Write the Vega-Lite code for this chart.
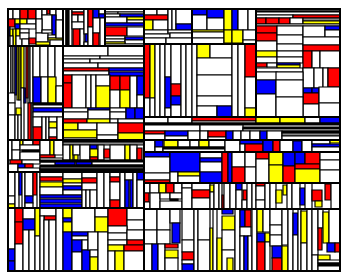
{
"$schema":"https://vega.github.io/schema/vega-lite/v6.json",
"width":332,"height":262,
"autosize":{"type":"none"},
"padding":{"left":8,"top":9,"right":10,"bottom":9},
"config":{"view":{"stroke":null}},
"datasets":{
"cells":[
{"x":8,"x2":340,"y":9,"y2":271,"c":"w"},
{"x":8,"x2":63,"y":9,"y2":46,"c":"w"},
{"x":8,"x2":13,"y":9,"y2":19,"c":"w"},{"x":13,"x2":20,"y":9,"y2":19,"c":"w"},{"x":20,"x2":28,"y":9,"y2":19,"c":"r"},{"x":28,"x2":36,"y":9,"y2":19,"c":"r"},{"x":36,"x2":42,"y":9,"y2":19,"c":"w"},{"x":42,"x2":47,"y":9,"y2":15,"c":"w"},{"x":47,"x2":50,"y":9,"y2":14,"c":"r"},{"x":50,"x2":56,"y":9,"y2":15,"c":"w"},{"x":56,"x2":63,"y":9,"y2":20,"c":"w"},{"x":42,"x2":52,"y":15,"y2":30,"c":"w"},{"x":52,"x2":56,"y":15,"y2":35,"c":"b"},
{"x":8,"x2":15,"y":19,"y2":27,"c":"r"},{"x":15,"x2":20,"y":19,"y2":24,"c":"y"},{"x":20,"x2":27,"y":19,"y2":24,"c":"y"},{"x":27,"x2":36,"y":19,"y2":24,"c":"w"},{"x":15,"x2":20,"y":24,"y2":29,"c":"b"},{"x":20,"x2":36,"y":24,"y2":29,"c":"w"},{"x":36,"x2":42,"y":19,"y2":33,"c":"w"},
{"x":8,"x2":10,"y":27,"y2":36,"c":"b"},{"x":10,"x2":13,"y":29,"y2":36,"c":"y"},{"x":13,"x2":16,"y":29,"y2":46,"c":"y"},{"x":16,"x2":20,"y":29,"y2":36,"c":"y"},{"x":8,"x2":10,"y":36,"y2":46,"c":"w"},{"x":10,"x2":13,"y":36,"y2":46,"c":"w"},{"x":16,"x2":22,"y":36,"y2":46,"c":"w"},{"x":20,"x2":29,"y":29,"y2":33,"c":"w"},{"x":20,"x2":29,"y":33,"y2":39,"c":"w"},{"x":22,"x2":29,"y":39,"y2":46,"c":"w"},{"x":29,"x2":36,"y":38,"y2":44,"c":"r"},{"x":36,"x2":48,"y":33,"y2":42,"c":"w"},{"x":36,"x2":50,"y":42,"y2":45,"c":"y"},{"x":48,"x2":56,"y":35,"y2":38,"c":"w"},{"x":48,"x2":63,"y":38,"y2":40,"c":"y"},{"x":56,"x2":63,"y":20,"y2":38,"c":"w"},{"x":50,"x2":63,"y":40,"y2":46,"c":"w"},{"x":42,"x2":52,"y":30,"y2":33,"c":"w"},
{"x":63,"x2":66,"y":9,"y2":46,"c":"w"},{"x":66,"x2":69,"y":9,"y2":46,"c":"k"},{"x":69,"x2":72,"y":9,"y2":46,"c":"w"},{"x":72,"x2":84,"y":9,"y2":12,"c":"w"},{"x":72,"x2":84,"y":12,"y2":15,"c":"r"},{"x":72,"x2":78,"y":15,"y2":22,"c":"w"},{"x":78,"x2":84,"y":15,"y2":22,"c":"w"},{"x":72,"x2":84,"y":22,"y2":29,"c":"w"},{"x":73,"x2":80,"y":29,"y2":46,"c":"r"},{"x":80,"x2":84,"y":29,"y2":46,"c":"w"},{"x":84,"x2":88,"y":9,"y2":34,"c":"w"},{"x":85,"x2":88,"y":34,"y2":42,"c":"b"},{"x":84,"x2":88,"y":42,"y2":46,"c":"w"},{"x":88,"x2":93,"y":9,"y2":27,"c":"r"},{"x":88,"x2":93,"y":27,"y2":46,"c":"w"},{"x":93,"x2":99,"y":9,"y2":18,"c":"b"},{"x":99,"x2":105,"y":9,"y2":14,"c":"w"},{"x":99,"x2":105,"y":14,"y2":18,"c":"b"},{"x":93,"x2":100,"y":18,"y2":33,"c":"w"},{"x":100,"x2":105,"y":18,"y2":46,"c":"w"},{"x":93,"x2":99,"y":33,"y2":46,"c":"r"},
{"x":105,"x2":144,"y":9,"y2":12,"c":"w"},{"x":105,"x2":118,"y":12,"y2":14,"c":"w"},{"x":118,"x2":144,"y":12,"y2":14,"c":"w"},{"x":105,"x2":120,"y":14,"y2":17,"c":"w"},{"x":120,"x2":144,"y":14,"y2":17,"c":"b"},{"x":105,"x2":127,"y":17,"y2":23,"c":"w"},{"x":127,"x2":144,"y":17,"y2":20,"c":"y"},{"x":127,"x2":144,"y":20,"y2":23,"c":"w"},{"x":105,"x2":144,"y":23,"y2":26,"c":"b"},{"x":105,"x2":127,"y":27,"y2":36,"c":"r"},{"x":127,"x2":144,"y":27,"y2":36,"c":"w"},{"x":105,"x2":125,"y":36,"y2":39,"c":"w"},{"x":125,"x2":144,"y":37,"y2":40,"c":"b"},{"x":105,"x2":125,"y":39,"y2":42,"c":"w"},{"x":125,"x2":144,"y":40,"y2":44,"c":"w"},{"x":105,"x2":125,"y":42,"y2":44,"c":"y"},{"x":105,"x2":144,"y":44,"y2":46,"c":"w"},
{"x":144,"x2":157,"y":9,"y2":15,"c":"w"},{"x":157,"x2":168,"y":9,"y2":15,"c":"w"},{"x":144,"x2":168,"y":15,"y2":20,"c":"r"},{"x":144,"x2":153,"y":20,"y2":30,"c":"y"},{"x":153,"x2":168,"y":20,"y2":30,"c":"w"},{"x":168,"x2":172,"y":9,"y2":30,"c":"w"},{"x":172,"x2":176,"y":9,"y2":30,"c":"w"},{"x":176,"x2":192,"y":9,"y2":24,"c":"w"},{"x":176,"x2":192,"y":24,"y2":30,"c":"b"},{"x":144,"x2":168,"y":30,"y2":34,"c":"w"},{"x":168,"x2":192,"y":30,"y2":33,"c":"w"},{"x":144,"x2":170,"y":34,"y2":38,"c":"w"},{"x":170,"x2":192,"y":33,"y2":38,"c":"w"},{"x":144,"x2":166,"y":38,"y2":44,"c":"w"},{"x":166,"x2":192,"y":38,"y2":44,"c":"w"},
{"x":192,"x2":207,"y":9,"y2":15,"c":"b"},{"x":192,"x2":207,"y":15,"y2":30,"c":"w"},{"x":207,"x2":224,"y":9,"y2":18,"c":"b"},{"x":207,"x2":224,"y":18,"y2":30,"c":"w"},{"x":224,"x2":232,"y":9,"y2":30,"c":"y"},{"x":232,"x2":238,"y":9,"y2":30,"c":"b"},{"x":238,"x2":248,"y":9,"y2":30,"c":"w"},{"x":248,"x2":256,"y":9,"y2":30,"c":"w"},{"x":192,"x2":224,"y":30,"y2":32,"c":"y"},{"x":192,"x2":224,"y":32,"y2":38,"c":"w"},{"x":192,"x2":224,"y":38,"y2":44,"c":"w"},{"x":224,"x2":232,"y":30,"y2":43,"c":"y"},{"x":232,"x2":243,"y":30,"y2":43,"c":"y"},{"x":243,"x2":256,"y":30,"y2":40,"c":"w"},{"x":243,"x2":256,"y":40,"y2":44,"c":"w"},
{"x":256,"x2":340,"y":9,"y2":11,"c":"w"},{"x":256,"x2":340,"y":11,"y2":12,"c":"k"},{"x":256,"x2":340,"y":12,"y2":15,"c":"w"},{"x":256,"x2":293,"y":15,"y2":18,"c":"w"},{"x":293,"x2":340,"y":15,"y2":18,"c":"r"},{"x":256,"x2":266,"y":18,"y2":24,"c":"r"},{"x":266,"x2":279,"y":18,"y2":24,"c":"r"},{"x":279,"x2":290,"y":18,"y2":24,"c":"r"},{"x":290,"x2":303,"y":18,"y2":24,"c":"w"},{"x":303,"x2":340,"y":18,"y2":21,"c":"g"},{"x":303,"x2":340,"y":21,"y2":24,"c":"y"},{"x":256,"x2":340,"y":24,"y2":26,"c":"w"},{"x":256,"x2":277,"y":26,"y2":33,"c":"r"},{"x":256,"x2":277,"y":33,"y2":41,"c":"r"},{"x":256,"x2":277,"y":41,"y2":51,"c":"w"},{"x":277,"x2":303,"y":26,"y2":35,"c":"w"},{"x":277,"x2":303,"y":35,"y2":44,"c":"w"},{"x":277,"x2":303,"y":44,"y2":51,"c":"w"},{"x":303,"x2":325,"y":26,"y2":37,"c":"w"},{"x":325,"x2":340,"y":26,"y2":30,"c":"b"},{"x":325,"x2":340,"y":30,"y2":37,"c":"w"},{"x":303,"x2":340,"y":37,"y2":45,"c":"w"},{"x":303,"x2":340,"y":45,"y2":51,"c":"r"},
{"x":256,"x2":277,"y":51,"y2":57,"c":"y"},{"x":277,"x2":303,"y":51,"y2":57,"c":"w"},{"x":256,"x2":277,"y":57,"y2":63,"c":"w"},{"x":277,"x2":303,"y":57,"y2":63,"c":"w"},{"x":256,"x2":267,"y":63,"y2":67,"c":"r"},{"x":267,"x2":277,"y":63,"y2":67,"c":"w"},{"x":277,"x2":300,"y":63,"y2":65,"c":"b"},{"x":277,"x2":300,"y":65,"y2":68,"c":"y"},{"x":256,"x2":303,"y":68,"y2":72,"c":"w"},{"x":303,"x2":312,"y":51,"y2":68,"c":"r"},{"x":312,"x2":320,"y":51,"y2":68,"c":"w"},{"x":320,"x2":340,"y":51,"y2":68,"c":"w"},{"x":303,"x2":314,"y":68,"y2":88,"c":"w"},{"x":314,"x2":323,"y":68,"y2":88,"c":"w"},{"x":323,"x2":328,"y":68,"y2":88,"c":"w"},{"x":328,"x2":340,"y":68,"y2":87,"c":"r"},{"x":303,"x2":312,"y":88,"y2":93,"c":"b"},{"x":312,"x2":319,"y":88,"y2":93,"c":"b"},{"x":303,"x2":319,"y":93,"y2":104,"c":"r"},{"x":303,"x2":319,"y":104,"y2":117,"c":"w"},{"x":319,"x2":340,"y":87,"y2":103,"c":"w"},{"x":319,"x2":340,"y":103,"y2":117,"c":"w"},{"x":256,"x2":277,"y":72,"y2":80,"c":"w"},{"x":256,"x2":276,"y":80,"y2":94,"c":"b"},{"x":256,"x2":276,"y":94,"y2":117,"c":"w"},{"x":276,"x2":303,"y":72,"y2":80,"c":"w"},{"x":276,"x2":303,"y":80,"y2":97,"c":"w"},{"x":276,"x2":303,"y":97,"y2":117,"c":"w"},
{"x":144,"x2":150,"y":44,"y2":98,"c":"r"},{"x":144,"x2":150,"y":98,"y2":117,"c":"w"},{"x":150,"x2":155,"y":44,"y2":98,"c":"y"},{"x":150,"x2":155,"y":98,"y2":117,"c":"w"},{"x":155,"x2":160,"y":44,"y2":117,"c":"w"},{"x":160,"x2":165,"y":44,"y2":117,"c":"w"},{"x":165,"x2":171,"y":44,"y2":77,"c":"w"},{"x":165,"x2":171,"y":77,"y2":108,"c":"b"},{"x":165,"x2":171,"y":108,"y2":117,"c":"w"},{"x":171,"x2":181,"y":44,"y2":84,"c":"w"},{"x":171,"x2":181,"y":84,"y2":96,"c":"r"},{"x":171,"x2":181,"y":96,"y2":105,"c":"b"},{"x":171,"x2":181,"y":105,"y2":117,"c":"w"},{"x":181,"x2":186,"y":44,"y2":117,"c":"w"},{"x":186,"x2":192,"y":44,"y2":117,"c":"w"},{"x":192,"x2":197,"y":44,"y2":117,"c":"w"},{"x":197,"x2":210,"y":44,"y2":58,"c":"y"},{"x":210,"x2":232,"y":44,"y2":58,"c":"w"},{"x":197,"x2":232,"y":58,"y2":75,"c":"w"},{"x":197,"x2":232,"y":75,"y2":96,"c":"w"},{"x":197,"x2":232,"y":96,"y2":106,"c":"w"},{"x":197,"x2":217,"y":106,"y2":117,"c":"w"},{"x":217,"x2":232,"y":106,"y2":117,"c":"b"},{"x":232,"x2":238,"y":44,"y2":117,"c":"w"},{"x":238,"x2":245,"y":44,"y2":117,"c":"w"},{"x":245,"x2":256,"y":44,"y2":77,"c":"r"},{"x":245,"x2":256,"y":77,"y2":108,"c":"w"},{"x":245,"x2":256,"y":108,"y2":117,"c":"y"},
{"x":144,"x2":168,"y":117,"y2":123,"c":"w"},{"x":168,"x2":192,"y":117,"y2":123,"c":"w"},{"x":192,"x2":256,"y":117,"y2":121,"c":"r"},{"x":192,"x2":256,"y":121,"y2":123,"c":"w"},{"x":256,"x2":280,"y":117,"y2":123,"c":"y"},{"x":280,"x2":305,"y":117,"y2":123,"c":"y"},{"x":305,"x2":320,"y":117,"y2":123,"c":"w"},{"x":320,"x2":340,"y":117,"y2":123,"c":"b"},{"x":144,"x2":340,"y":123,"y2":125,"c":"k"},{"x":144,"x2":200,"y":125,"y2":131,"c":"w"},{"x":200,"x2":243,"y":125,"y2":131,"c":"w"},{"x":243,"x2":340,"y":127,"y2":129,"c":"k"},{"x":243,"x2":340,"y":129,"y2":131,"c":"w"},{"x":144,"x2":165,"y":131,"y2":134,"c":"r"},{"x":144,"x2":165,"y":134,"y2":140,"c":"w"},{"x":165,"x2":188,"y":131,"y2":136,"c":"b"},{"x":165,"x2":188,"y":136,"y2":140,"c":"w"},{"x":188,"x2":200,"y":131,"y2":140,"c":"w"},{"x":200,"x2":208,"y":131,"y2":140,"c":"w"},{"x":208,"x2":226,"y":131,"y2":137,"c":"r"},{"x":208,"x2":226,"y":137,"y2":140,"c":"w"},{"x":226,"x2":233,"y":131,"y2":140,"c":"b"},{"x":233,"x2":241,"y":131,"y2":140,"c":"w"},{"x":241,"x2":250,"y":131,"y2":140,"c":"w"},{"x":250,"x2":260,"y":131,"y2":140,"c":"w"},{"x":260,"x2":267,"y":131,"y2":140,"c":"b"},{"x":267,"x2":282,"y":131,"y2":140,"c":"w"},{"x":282,"x2":340,"y":131,"y2":133,"c":"k"},{"x":282,"x2":340,"y":133,"y2":136,"c":"g"},{"x":282,"x2":340,"y":136,"y2":140,"c":"w"},
{"x":144,"x2":155,"y":140,"y2":152,"c":"w"},{"x":155,"x2":163,"y":140,"y2":147,"c":"b"},{"x":155,"x2":163,"y":147,"y2":152,"c":"w"},{"x":164,"x2":178,"y":140,"y2":147,"c":"y"},{"x":178,"x2":190,"y":140,"y2":147,"c":"w"},{"x":190,"x2":199,"y":140,"y2":147,"c":"w"},{"x":199,"x2":209,"y":140,"y2":147,"c":"y"},{"x":209,"x2":225,"y":140,"y2":147,"c":"w"},{"x":163,"x2":225,"y":147,"y2":149,"c":"k"},{"x":163,"x2":225,"y":149,"y2":152,"c":"w"},{"x":225,"x2":240,"y":140,"y2":152,"c":"w"},{"x":240,"x2":263,"y":140,"y2":144,"c":"b"},{"x":240,"x2":245,"y":144,"y2":152,"c":"w"},{"x":245,"x2":263,"y":144,"y2":152,"c":"r"},{"x":263,"x2":273,"y":140,"y2":152,"c":"b"},{"x":273,"x2":280,"y":140,"y2":152,"c":"r"},{"x":280,"x2":293,"y":140,"y2":152,"c":"w"},{"x":293,"x2":302,"y":141,"y2":152,"c":"b"},{"x":302,"x2":312,"y":140,"y2":152,"c":"w"},{"x":312,"x2":330,"y":140,"y2":144,"c":"w"},{"x":330,"x2":340,"y":140,"y2":143,"c":"y"},{"x":312,"x2":340,"y":144,"y2":147,"c":"b"},{"x":312,"x2":340,"y":147,"y2":152,"c":"w"},
{"x":144,"x2":170,"y":152,"y2":157,"c":"b"},{"x":144,"x2":170,"y":157,"y2":173,"c":"w"},{"x":144,"x2":170,"y":173,"y2":180,"c":"w"},{"x":144,"x2":170,"y":180,"y2":183,"c":"r"},{"x":170,"x2":200,"y":152,"y2":172,"c":"b"},{"x":170,"x2":178,"y":172,"y2":183,"c":"w"},{"x":178,"x2":200,"y":172,"y2":176,"c":"y"},{"x":178,"x2":200,"y":176,"y2":183,"c":"w"},{"x":200,"x2":222,"y":152,"y2":158,"c":"w"},{"x":200,"x2":222,"y":158,"y2":162,"c":"b"},{"x":200,"x2":222,"y":162,"y2":172,"c":"w"},{"x":200,"x2":222,"y":172,"y2":183,"c":"b"},{"x":222,"x2":228,"y":152,"y2":183,"c":"r"},{"x":228,"x2":232,"y":152,"y2":183,"c":"b"},{"x":232,"x2":245,"y":152,"y2":167,"c":"w"},{"x":232,"x2":245,"y":167,"y2":183,"c":"r"},{"x":245,"x2":256,"y":152,"y2":167,"c":"w"},{"x":245,"x2":256,"y":167,"y2":183,"c":"w"},{"x":256,"x2":269,"y":152,"y2":159,"c":"r"},{"x":256,"x2":269,"y":159,"y2":183,"c":"w"},{"x":269,"x2":283,"y":152,"y2":165,"c":"y"},{"x":269,"x2":283,"y":165,"y2":183,"c":"y"},{"x":283,"x2":295,"y":152,"y2":166,"c":"b"},{"x":283,"x2":295,"y":166,"y2":183,"c":"r"},{"x":295,"x2":305,"y":152,"y2":164,"c":"b"},{"x":305,"x2":320,"y":152,"y2":164,"c":"r"},{"x":295,"x2":320,"y":164,"y2":169,"c":"r"},{"x":295,"x2":320,"y":169,"y2":183,"c":"y"},{"x":320,"x2":340,"y":152,"y2":160,"c":"w"},{"x":320,"x2":340,"y":160,"y2":170,"c":"w"},{"x":320,"x2":340,"y":170,"y2":183,"c":"w"},
{"x":144,"x2":150,"y":183,"y2":193,"c":"w"},{"x":144,"x2":149,"y":193,"y2":202,"c":"r"},{"x":144,"x2":150,"y":202,"y2":209,"c":"w"},{"x":150,"x2":159,"y":183,"y2":193,"c":"w"},{"x":159,"x2":166,"y":183,"y2":193,"c":"y"},{"x":166,"x2":174,"y":183,"y2":193,"c":"r"},{"x":174,"x2":182,"y":183,"y2":193,"c":"w"},{"x":150,"x2":160,"y":193,"y2":209,"c":"w"},{"x":160,"x2":170,"y":193,"y2":199,"c":"w"},{"x":170,"x2":182,"y":193,"y2":199,"c":"w"},{"x":170,"x2":178,"y":199,"y2":201,"c":"k"},{"x":160,"x2":182,"y":201,"y2":209,"c":"w"},{"x":182,"x2":192,"y":183,"y2":188,"c":"w"},{"x":182,"x2":192,"y":188,"y2":209,"c":"w"},{"x":192,"x2":210,"y":183,"y2":190,"c":"w"},{"x":192,"x2":210,"y":190,"y2":198,"c":"r"},{"x":192,"x2":210,"y":198,"y2":209,"c":"w"},{"x":210,"x2":214,"y":185,"y2":192,"c":"y"},{"x":210,"x2":214,"y":192,"y2":209,"c":"w"},{"x":214,"x2":219,"y":183,"y2":209,"c":"w"},{"x":219,"x2":222,"y":183,"y2":209,"c":"w"},{"x":222,"x2":224,"y":195,"y2":209,"c":"r"},{"x":224,"x2":230,"y":183,"y2":209,"c":"w"},{"x":230,"x2":236,"y":183,"y2":209,"c":"w"},{"x":236,"x2":242,"y":183,"y2":190,"c":"b"},{"x":236,"x2":242,"y":190,"y2":209,"c":"w"},{"x":243,"x2":247,"y":190,"y2":200,"c":"r"},{"x":242,"x2":247,"y":200,"y2":209,"c":"w"},{"x":247,"x2":252,"y":183,"y2":209,"c":"w"},{"x":252,"x2":256,"y":183,"y2":209,"c":"w"},{"x":256,"x2":265,"y":183,"y2":186,"c":"r"},{"x":256,"x2":265,"y":186,"y2":200,"c":"w"},{"x":256,"x2":265,"y":200,"y2":209,"c":"w"},{"x":265,"x2":270,"y":183,"y2":209,"c":"w"},{"x":270,"x2":276,"y":183,"y2":209,"c":"w"},{"x":276,"x2":282,"y":190,"y2":203,"c":"y"},{"x":283,"x2":287,"y":185,"y2":195,"c":"y"},{"x":287,"x2":292,"y":183,"y2":209,"c":"w"},{"x":292,"x2":300,"y":183,"y2":209,"c":"w"},{"x":300,"x2":305,"y":188,"y2":205,"c":"b"},{"x":305,"x2":312,"y":183,"y2":209,"c":"w"},{"x":312,"x2":322,"y":190,"y2":201,"c":"r"},{"x":315,"x2":322,"y":201,"y2":207,"c":"y"},{"x":325,"x2":331,"y":184,"y2":200,"c":"r"},{"x":331,"x2":340,"y":183,"y2":209,"c":"w"},
{"x":144,"x2":157,"y":209,"y2":230,"c":"w"},{"x":157,"x2":170,"y":209,"y2":230,"c":"w"},{"x":144,"x2":157,"y":230,"y2":244,"c":"w"},{"x":157,"x2":170,"y":230,"y2":244,"c":"w"},{"x":144,"x2":152,"y":244,"y2":271,"c":"w"},{"x":152,"x2":158,"y":244,"y2":271,"c":"b"},{"x":158,"x2":165,"y":244,"y2":271,"c":"w"},{"x":165,"x2":178,"y":244,"y2":248,"c":"r"},{"x":165,"x2":178,"y":250,"y2":258,"c":"y"},{"x":165,"x2":178,"y":258,"y2":271,"c":"w"},{"x":170,"x2":180,"y":209,"y2":223,"c":"w"},{"x":172,"x2":180,"y":223,"y2":243,"c":"b"},{"x":182,"x2":194,"y":209,"y2":240,"c":"w"},{"x":182,"x2":194,"y":240,"y2":252,"c":"w"},{"x":182,"x2":194,"y":252,"y2":260,"c":"r"},{"x":182,"x2":194,"y":260,"y2":264,"c":"w"},{"x":182,"x2":194,"y":264,"y2":271,"c":"b"},{"x":194,"x2":198,"y":209,"y2":271,"c":"w"},{"x":198,"x2":210,"y":209,"y2":240,"c":"w"},{"x":198,"x2":210,"y":240,"y2":271,"c":"w"},{"x":210,"x2":213,"y":228,"y2":271,"c":"y"},{"x":213,"x2":217,"y":209,"y2":271,"c":"w"},{"x":217,"x2":222,"y":238,"y2":271,"c":"y"},{"x":222,"x2":233,"y":209,"y2":214,"c":"b"},{"x":222,"x2":235,"y":216,"y2":230,"c":"y"},{"x":222,"x2":235,"y":230,"y2":250,"c":"w"},{"x":222,"x2":235,"y":250,"y2":271,"c":"w"},{"x":227,"x2":233,"y":258,"y2":271,"c":"y"},{"x":235,"x2":240,"y":209,"y2":271,"c":"w"},{"x":240,"x2":245,"y":210,"y2":227,"c":"b"},{"x":245,"x2":251,"y":210,"y2":227,"c":"r"},{"x":240,"x2":251,"y":227,"y2":236,"c":"w"},{"x":240,"x2":244,"y":236,"y2":271,"c":"w"},{"x":244,"x2":248,"y":236,"y2":271,"c":"b"},{"x":248,"x2":252,"y":236,"y2":271,"c":"w"},{"x":252,"x2":257,"y":209,"y2":271,"c":"w"},{"x":257,"x2":263,"y":209,"y2":232,"c":"y"},{"x":263,"x2":270,"y":209,"y2":232,"c":"w"},{"x":257,"x2":265,"y":233,"y2":242,"c":"b"},{"x":265,"x2":270,"y":233,"y2":242,"c":"y"},{"x":257,"x2":265,"y":242,"y2":271,"c":"r"},{"x":265,"x2":270,"y":242,"y2":271,"c":"w"},{"x":270,"x2":282,"y":209,"y2":225,"c":"w"},{"x":270,"x2":282,"y":225,"y2":235,"c":"w"},{"x":270,"x2":282,"y":235,"y2":246,"c":"w"},{"x":272,"x2":282,"y":246,"y2":258,"c":"b"},{"x":272,"x2":282,"y":258,"y2":271,"c":"r"},{"x":282,"x2":288,"y":209,"y2":245,"c":"w"},{"x":282,"x2":288,"y":246,"y2":271,"c":"y"},{"x":288,"x2":293,"y":209,"y2":271,"c":"w"},{"x":293,"x2":298,"y":213,"y2":235,"c":"b"},{"x":293,"x2":298,"y":235,"y2":271,"c":"w"},{"x":298,"x2":301,"y":209,"y2":271,"c":"w"},{"x":301,"x2":307,"y":211,"y2":243,"c":"y"},{"x":301,"x2":307,"y":243,"y2":271,"c":"w"},{"x":307,"x2":312,"y":209,"y2":271,"c":"w"},{"x":312,"x2":318,"y":209,"y2":255,"c":"w"},{"x":318,"x2":323,"y":209,"y2":228,"c":"w"},{"x":318,"x2":322,"y":228,"y2":250,"c":"r"},{"x":323,"x2":329,"y":212,"y2":243,"c":"y"},{"x":329,"x2":340,"y":209,"y2":243,"c":"w"},{"x":327,"x2":335,"y":243,"y2":252,"c":"b"},{"x":335,"x2":340,"y":243,"y2":252,"c":"r"},{"x":312,"x2":318,"y":255,"y2":271,"c":"w"},{"x":318,"x2":330,"y":255,"y2":260,"c":"y"},{"x":318,"x2":340,"y":260,"y2":263,"c":"w"},{"x":318,"x2":340,"y":263,"y2":266,"c":"k"},{"x":318,"x2":340,"y":266,"y2":271,"c":"w"},
{"x":8,"x2":11,"y":46,"y2":140,"c":"w"},{"x":11,"x2":13,"y":46,"y2":93,"c":"w"},{"x":13,"x2":15,"y":46,"y2":93,"c":"w"},{"x":8,"x2":15,"y":93,"y2":103,"c":"w"},{"x":8,"x2":15,"y":103,"y2":115,"c":"w"},{"x":8,"x2":15,"y":115,"y2":140,"c":"w"},{"x":15,"x2":17,"y":46,"y2":95,"c":"b"},{"x":17,"x2":19,"y":46,"y2":100,"c":"y"},{"x":19,"x2":21,"y":46,"y2":100,"c":"y"},{"x":21,"x2":24,"y":46,"y2":88,"c":"y"},{"x":21,"x2":24,"y":88,"y2":140,"c":"w"},{"x":24,"x2":26,"y":88,"y2":103,"c":"b"},{"x":28,"x2":30,"y":46,"y2":103,"c":"w"},{"x":30,"x2":33,"y":46,"y2":103,"c":"w"},{"x":26,"x2":28,"y":46,"y2":98,"c":"r"},{"x":31,"x2":33,"y":103,"y2":140,"c":"w"},{"x":28,"x2":31,"y":103,"y2":140,"c":"r"},{"x":16,"x2":21,"y":108,"y2":115,"c":"y"},{"x":15,"x2":18,"y":115,"y2":140,"c":"w"},{"x":18,"x2":21,"y":115,"y2":140,"c":"w"},
{"x":33,"x2":40,"y":46,"y2":77,"c":"w"},{"x":40,"x2":48,"y":46,"y2":77,"c":"w"},{"x":48,"x2":55,"y":46,"y2":77,"c":"w"},{"x":55,"x2":63,"y":46,"y2":86,"c":"w"},{"x":33,"x2":41,"y":77,"y2":103,"c":"b"},{"x":41,"x2":48,"y":77,"y2":103,"c":"w"},{"x":48,"x2":56,"y":77,"y2":103,"c":"y"},{"x":56,"x2":63,"y":86,"y2":103,"c":"w"},{"x":33,"x2":63,"y":103,"y2":105,"c":"k"},{"x":33,"x2":63,"y":105,"y2":108,"c":"w"},{"x":33,"x2":63,"y":108,"y2":112,"c":"b"},{"x":33,"x2":63,"y":112,"y2":117,"c":"w"},{"x":33,"x2":42,"y":117,"y2":127,"c":"w"},{"x":33,"x2":42,"y":127,"y2":140,"c":"r"},{"x":42,"x2":46,"y":117,"y2":140,"c":"w"},{"x":46,"x2":49,"y":117,"y2":140,"c":"w"},{"x":49,"x2":57,"y":117,"y2":122,"c":"w"},{"x":49,"x2":57,"y":122,"y2":128,"c":"y"},{"x":49,"x2":57,"y":128,"y2":137,"c":"w"},{"x":49,"x2":57,"y":137,"y2":140,"c":"r"},{"x":57,"x2":63,"y":117,"y2":140,"c":"w"},
{"x":63,"x2":108,"y":46,"y2":56,"c":"w"},{"x":108,"x2":144,"y":46,"y2":56,"c":"w"},{"x":63,"x2":100,"y":56,"y2":59,"c":"w"},{"x":100,"x2":144,"y":56,"y2":59,"c":"w"},{"x":63,"x2":90,"y":59,"y2":63,"c":"w"},{"x":90,"x2":144,"y":59,"y2":63,"c":"w"},{"x":63,"x2":98,"y":63,"y2":68,"c":"w"},{"x":98,"x2":144,"y":63,"y2":68,"c":"w"},{"x":63,"x2":109,"y":68,"y2":71,"c":"r"},{"x":63,"x2":109,"y":71,"y2":75,"c":"w"},{"x":109,"x2":144,"y":68,"y2":71,"c":"b"},{"x":109,"x2":144,"y":72,"y2":76,"c":"b"},
{"x":63,"x2":72,"y":75,"y2":83,"c":"r"},{"x":63,"x2":72,"y":83,"y2":108,"c":"r"},{"x":72,"x2":86,"y":75,"y2":108,"c":"w"},{"x":86,"x2":91,"y":75,"y2":108,"c":"w"},{"x":91,"x2":96,"y":75,"y2":108,"c":"w"},{"x":96,"x2":110,"y":75,"y2":86,"c":"w"},{"x":96,"x2":110,"y":86,"y2":108,"c":"y"},{"x":110,"x2":120,"y":76,"y2":90,"c":"r"},{"x":110,"x2":120,"y":90,"y2":108,"c":"w"},{"x":120,"x2":130,"y":76,"y2":90,"c":"r"},{"x":120,"x2":130,"y":90,"y2":108,"c":"y"},{"x":130,"x2":137,"y":76,"y2":108,"c":"w"},{"x":137,"x2":144,"y":76,"y2":95,"c":"b"},{"x":137,"x2":144,"y":95,"y2":108,"c":"w"},
{"x":63,"x2":88,"y":108,"y2":112,"c":"w"},{"x":63,"x2":88,"y":112,"y2":119,"c":"w"},{"x":88,"x2":110,"y":108,"y2":110,"c":"b"},{"x":88,"x2":110,"y":110,"y2":119,"c":"w"},{"x":110,"x2":126,"y":108,"y2":112,"c":"w"},{"x":110,"x2":126,"y":112,"y2":119,"c":"w"},{"x":126,"x2":135,"y":108,"y2":119,"c":"b"},{"x":135,"x2":144,"y":108,"y2":119,"c":"b"},{"x":63,"x2":87,"y":119,"y2":123,"c":"r"},{"x":87,"x2":110,"y":119,"y2":123,"c":"y"},{"x":110,"x2":118,"y":119,"y2":123,"c":"w"},{"x":118,"x2":144,"y":119,"y2":123,"c":"w"},{"x":63,"x2":78,"y":123,"y2":130,"c":"y"},{"x":78,"x2":97,"y":123,"y2":130,"c":"w"},{"x":63,"x2":97,"y":130,"y2":138,"c":"y"},{"x":63,"x2":97,"y":138,"y2":140,"c":"w"},{"x":97,"x2":118,"y":123,"y2":135,"c":"w"},{"x":97,"x2":118,"y":135,"y2":140,"c":"w"},{"x":118,"x2":144,"y":123,"y2":133,"c":"r"},{"x":118,"x2":144,"y":133,"y2":140,"c":"y"},
{"x":8,"x2":12,"y":140,"y2":160,"c":"w"},{"x":12,"x2":20,"y":140,"y2":150,"c":"w"},{"x":12,"x2":20,"y":150,"y2":160,"c":"w"},{"x":20,"x2":23,"y":140,"y2":145,"c":"y"},{"x":23,"x2":33,"y":140,"y2":145,"c":"w"},{"x":33,"x2":40,"y":140,"y2":145,"c":"r"},{"x":20,"x2":40,"y":145,"y2":150,"c":"w"},{"x":22,"x2":40,"y":150,"y2":152,"c":"k"},{"x":20,"x2":40,"y":152,"y2":160,"c":"w"},{"x":40,"x2":50,"y":140,"y2":155,"c":"w"},{"x":50,"x2":54,"y":140,"y2":155,"c":"y"},{"x":54,"x2":63,"y":140,"y2":155,"c":"w"},{"x":40,"x2":55,"y":155,"y2":158,"c":"r"},{"x":40,"x2":63,"y":158,"y2":162,"c":"w"},{"x":10,"x2":22,"y":160,"y2":164,"c":"r"},{"x":22,"x2":40,"y":160,"y2":164,"c":"w"},{"x":8,"x2":18,"y":164,"y2":172,"c":"w"},{"x":18,"x2":25,"y":164,"y2":168,"c":"b"},{"x":25,"x2":33,"y":164,"y2":168,"c":"r"},{"x":18,"x2":40,"y":168,"y2":172,"c":"w"},
{"x":63,"x2":144,"y":140,"y2":142,"c":"k"},{"x":63,"x2":144,"y":142,"y2":145,"c":"g"},{"x":63,"x2":70,"y":145,"y2":160,"c":"w"},{"x":70,"x2":73,"y":145,"y2":160,"c":"y"},{"x":73,"x2":80,"y":145,"y2":155,"c":"w"},{"x":74,"x2":78,"y":155,"y2":160,"c":"y"},{"x":80,"x2":90,"y":145,"y2":160,"c":"w"},{"x":90,"x2":97,"y":145,"y2":149,"c":"b"},{"x":90,"x2":98,"y":149,"y2":157,"c":"y"},{"x":90,"x2":98,"y":157,"y2":160,"c":"r"},{"x":98,"x2":104,"y":145,"y2":160,"c":"w"},{"x":104,"x2":110,"y":149,"y2":158,"c":"r"},{"x":110,"x2":125,"y":145,"y2":160,"c":"w"},{"x":125,"x2":130,"y":145,"y2":160,"c":"y"},{"x":130,"x2":137,"y":145,"y2":160,"c":"w"},{"x":137,"x2":142,"y":148,"y2":160,"c":"r"},{"x":40,"x2":144,"y":160,"y2":162,"c":"k"},{"x":55,"x2":75,"y":162,"y2":165,"c":"b"},{"x":76,"x2":92,"y":162,"y2":165,"c":"b"},{"x":92,"x2":144,"y":162,"y2":165,"c":"w"},{"x":40,"x2":144,"y":165,"y2":167,"c":"k"},{"x":40,"x2":144,"y":167,"y2":169,"c":"g"},{"x":40,"x2":144,"y":169,"y2":171,"c":"k"},
{"x":8,"x2":15,"y":172,"y2":196,"c":"w"},{"x":8,"x2":15,"y":196,"y2":204,"c":"w"},{"x":8,"x2":15,"y":204,"y2":208,"c":"y"},{"x":15,"x2":19,"y":172,"y2":208,"c":"w"},{"x":19,"x2":22,"y":172,"y2":195,"c":"b"},{"x":22,"x2":25,"y":172,"y2":208,"c":"w"},{"x":25,"x2":33,"y":172,"y2":196,"c":"w"},{"x":25,"x2":33,"y":196,"y2":203,"c":"b"},{"x":25,"x2":33,"y":203,"y2":208,"c":"w"},{"x":33,"x2":37,"y":172,"y2":195,"c":"r"},{"x":37,"x2":40,"y":172,"y2":208,"c":"w"},
{"x":40,"x2":63,"y":172,"y2":177,"c":"w"},{"x":40,"x2":63,"y":177,"y2":181,"c":"r"},{"x":40,"x2":63,"y":182,"y2":187,"c":"y"},{"x":40,"x2":63,"y":187,"y2":195,"c":"w"},{"x":63,"x2":82,"y":172,"y2":179,"c":"w"},{"x":63,"x2":82,"y":179,"y2":183,"c":"y"},{"x":63,"x2":82,"y":183,"y2":186,"c":"w"},{"x":63,"x2":82,"y":186,"y2":190,"c":"b"},{"x":63,"x2":82,"y":190,"y2":195,"c":"w"},{"x":40,"x2":82,"y":195,"y2":198,"c":"b"},{"x":40,"x2":82,"y":199,"y2":203,"c":"b"},{"x":40,"x2":82,"y":204,"y2":208,"c":"b"},
{"x":82,"x2":97,"y":172,"y2":178,"c":"w"},{"x":82,"x2":97,"y":178,"y2":183,"c":"r"},{"x":82,"x2":97,"y":183,"y2":190,"c":"w"},{"x":82,"x2":86,"y":190,"y2":208,"c":"w"},{"x":86,"x2":90,"y":190,"y2":208,"c":"w"},{"x":90,"x2":97,"y":190,"y2":208,"c":"w"},{"x":97,"x2":104,"y":172,"y2":208,"c":"w"},
{"x":104,"x2":110,"y":172,"y2":208,"c":"w"},{"x":110,"x2":120,"y":172,"y2":177,"c":"w"},{"x":110,"x2":120,"y":177,"y2":182,"c":"r"},{"x":110,"x2":120,"y":182,"y2":200,"c":"w"},{"x":110,"x2":120,"y":200,"y2":208,"c":"r"},{"x":120,"x2":125,"y":172,"y2":208,"c":"w"},{"x":125,"x2":133,"y":172,"y2":180,"c":"w"},{"x":125,"x2":129,"y":180,"y2":208,"c":"b"},{"x":130,"x2":133,"y":180,"y2":208,"c":"b"},{"x":133,"x2":137,"y":172,"y2":208,"c":"w"},{"x":137,"x2":144,"y":172,"y2":180,"c":"b"},{"x":137,"x2":144,"y":180,"y2":208,"c":"w"},
{"x":8,"x2":15,"y":208,"y2":249,"c":"w"},{"x":8,"x2":15,"y":249,"y2":261,"c":"b"},{"x":8,"x2":15,"y":261,"y2":271,"c":"b"},{"x":15,"x2":23,"y":208,"y2":222,"c":"r"},{"x":15,"x2":23,"y":222,"y2":244,"c":"r"},{"x":15,"x2":23,"y":244,"y2":271,"c":"w"},{"x":23,"x2":35,"y":208,"y2":219,"c":"w"},{"x":23,"x2":35,"y":219,"y2":230,"c":"b"},{"x":23,"x2":29,"y":230,"y2":271,"c":"w"},{"x":29,"x2":35,"y":230,"y2":271,"c":"w"},{"x":35,"x2":40,"y":208,"y2":236,"c":"y"},{"x":35,"x2":40,"y":236,"y2":271,"c":"w"},{"x":40,"x2":56,"y":208,"y2":216,"c":"w"},{"x":44,"x2":56,"y":216,"y2":220,"c":"r"},{"x":40,"x2":44,"y":216,"y2":271,"c":"w"},{"x":44,"x2":49,"y":220,"y2":271,"c":"w"},{"x":49,"x2":56,"y":220,"y2":271,"c":"w"},{"x":56,"x2":63,"y":208,"y2":271,"c":"w"},
{"x":63,"x2":72,"y":208,"y2":218,"c":"y"},{"x":63,"x2":72,"y":218,"y2":222,"c":"b"},{"x":63,"x2":72,"y":222,"y2":232,"c":"y"},{"x":63,"x2":72,"y":232,"y2":271,"c":"b"},{"x":72,"x2":95,"y":208,"y2":232,"c":"w"},{"x":95,"x2":108,"y":208,"y2":217,"c":"w"},{"x":95,"x2":108,"y":217,"y2":232,"c":"y"},{"x":72,"x2":88,"y":232,"y2":236,"c":"b"},{"x":72,"x2":88,"y":236,"y2":240,"c":"w"},{"x":72,"x2":82,"y":240,"y2":252,"c":"b"},{"x":82,"x2":88,"y":240,"y2":250,"c":"w"},{"x":72,"x2":82,"y":252,"y2":271,"c":"w"},{"x":82,"x2":90,"y":250,"y2":271,"c":"b"},{"x":88,"x2":98,"y":232,"y2":250,"c":"w"},{"x":90,"x2":98,"y":250,"y2":257,"c":"w"},{"x":90,"x2":98,"y":257,"y2":271,"c":"y"},{"x":98,"x2":108,"y":232,"y2":271,"c":"w"},
{"x":108,"x2":127,"y":208,"y2":226,"c":"r"},{"x":127,"x2":144,"y":208,"y2":220,"c":"w"},{"x":127,"x2":144,"y":220,"y2":230,"c":"w"},{"x":108,"x2":127,"y":226,"y2":233,"c":"w"},{"x":108,"x2":127,"y":233,"y2":240,"c":"w"},{"x":127,"x2":144,"y":230,"y2":240,"c":"w"},{"x":108,"x2":127,"y":240,"y2":245,"c":"w"},{"x":127,"x2":144,"y":240,"y2":245,"c":"r"},{"x":108,"x2":124,"y":245,"y2":251,"c":"y"},{"x":124,"x2":144,"y":245,"y2":251,"c":"r"},{"x":108,"x2":115,"y":251,"y2":271,"c":"w"},{"x":115,"x2":124,"y":251,"y2":271,"c":"y"},{"x":124,"x2":144,"y":251,"y2":271,"c":"w"}
],
"blocks":[
{"x":8,"x2":63,"y":9,"y2":46},{"x":63,"x2":105,"y":9,"y2":46},{"x":105,"x2":144,"y":9,"y2":46},{"x":144,"x2":192,"y":9,"y2":44},{"x":192,"x2":256,"y":9,"y2":44},{"x":256,"x2":340,"y":9,"y2":117},{"x":144,"x2":256,"y":44,"y2":117},{"x":144,"x2":340,"y":117,"y2":140},{"x":144,"x2":340,"y":140,"y2":152},{"x":144,"x2":340,"y":152,"y2":183},{"x":144,"x2":340,"y":183,"y2":209},{"x":144,"x2":340,"y":209,"y2":271},{"x":8,"x2":63,"y":46,"y2":140},{"x":63,"x2":144,"y":46,"y2":140},{"x":8,"x2":144,"y":140,"y2":172},{"x":8,"x2":144,"y":172,"y2":208},{"x":8,"x2":144,"y":208,"y2":271},{"x":8,"x2":340,"y":9,"y2":271}
]
},
"layer":[
{"data":{"name":"cells"},
"mark":{"type":"rect","stroke":"#000000","strokeWidth":1.2},
"encoding":{
"x":{"field":"x","type":"quantitative","scale":{"domain":[8,340],"nice":false,"zero":false},"axis":null},
"x2":{"field":"x2"},
"y":{"field":"y","type":"quantitative","scale":{"domain":[9,271],"nice":false,"zero":false,"reverse":true},"axis":null},
"y2":{"field":"y2"},
"color":{"field":"c","type":"nominal","scale":{"domain":["w","r","b","y","k","g"],"range":["#ffffff","#ff0000","#0000ff","#ffff00","#000000","#888888"]},"legend":null}
}},
{"data":{"name":"blocks"},
"mark":{"type":"rect","filled":false,"stroke":"#000000","strokeWidth":1.8},
"encoding":{
"x":{"field":"x","type":"quantitative"},
"x2":{"field":"x2"},
"y":{"field":"y","type":"quantitative"},
"y2":{"field":"y2"}
}}
]
}
